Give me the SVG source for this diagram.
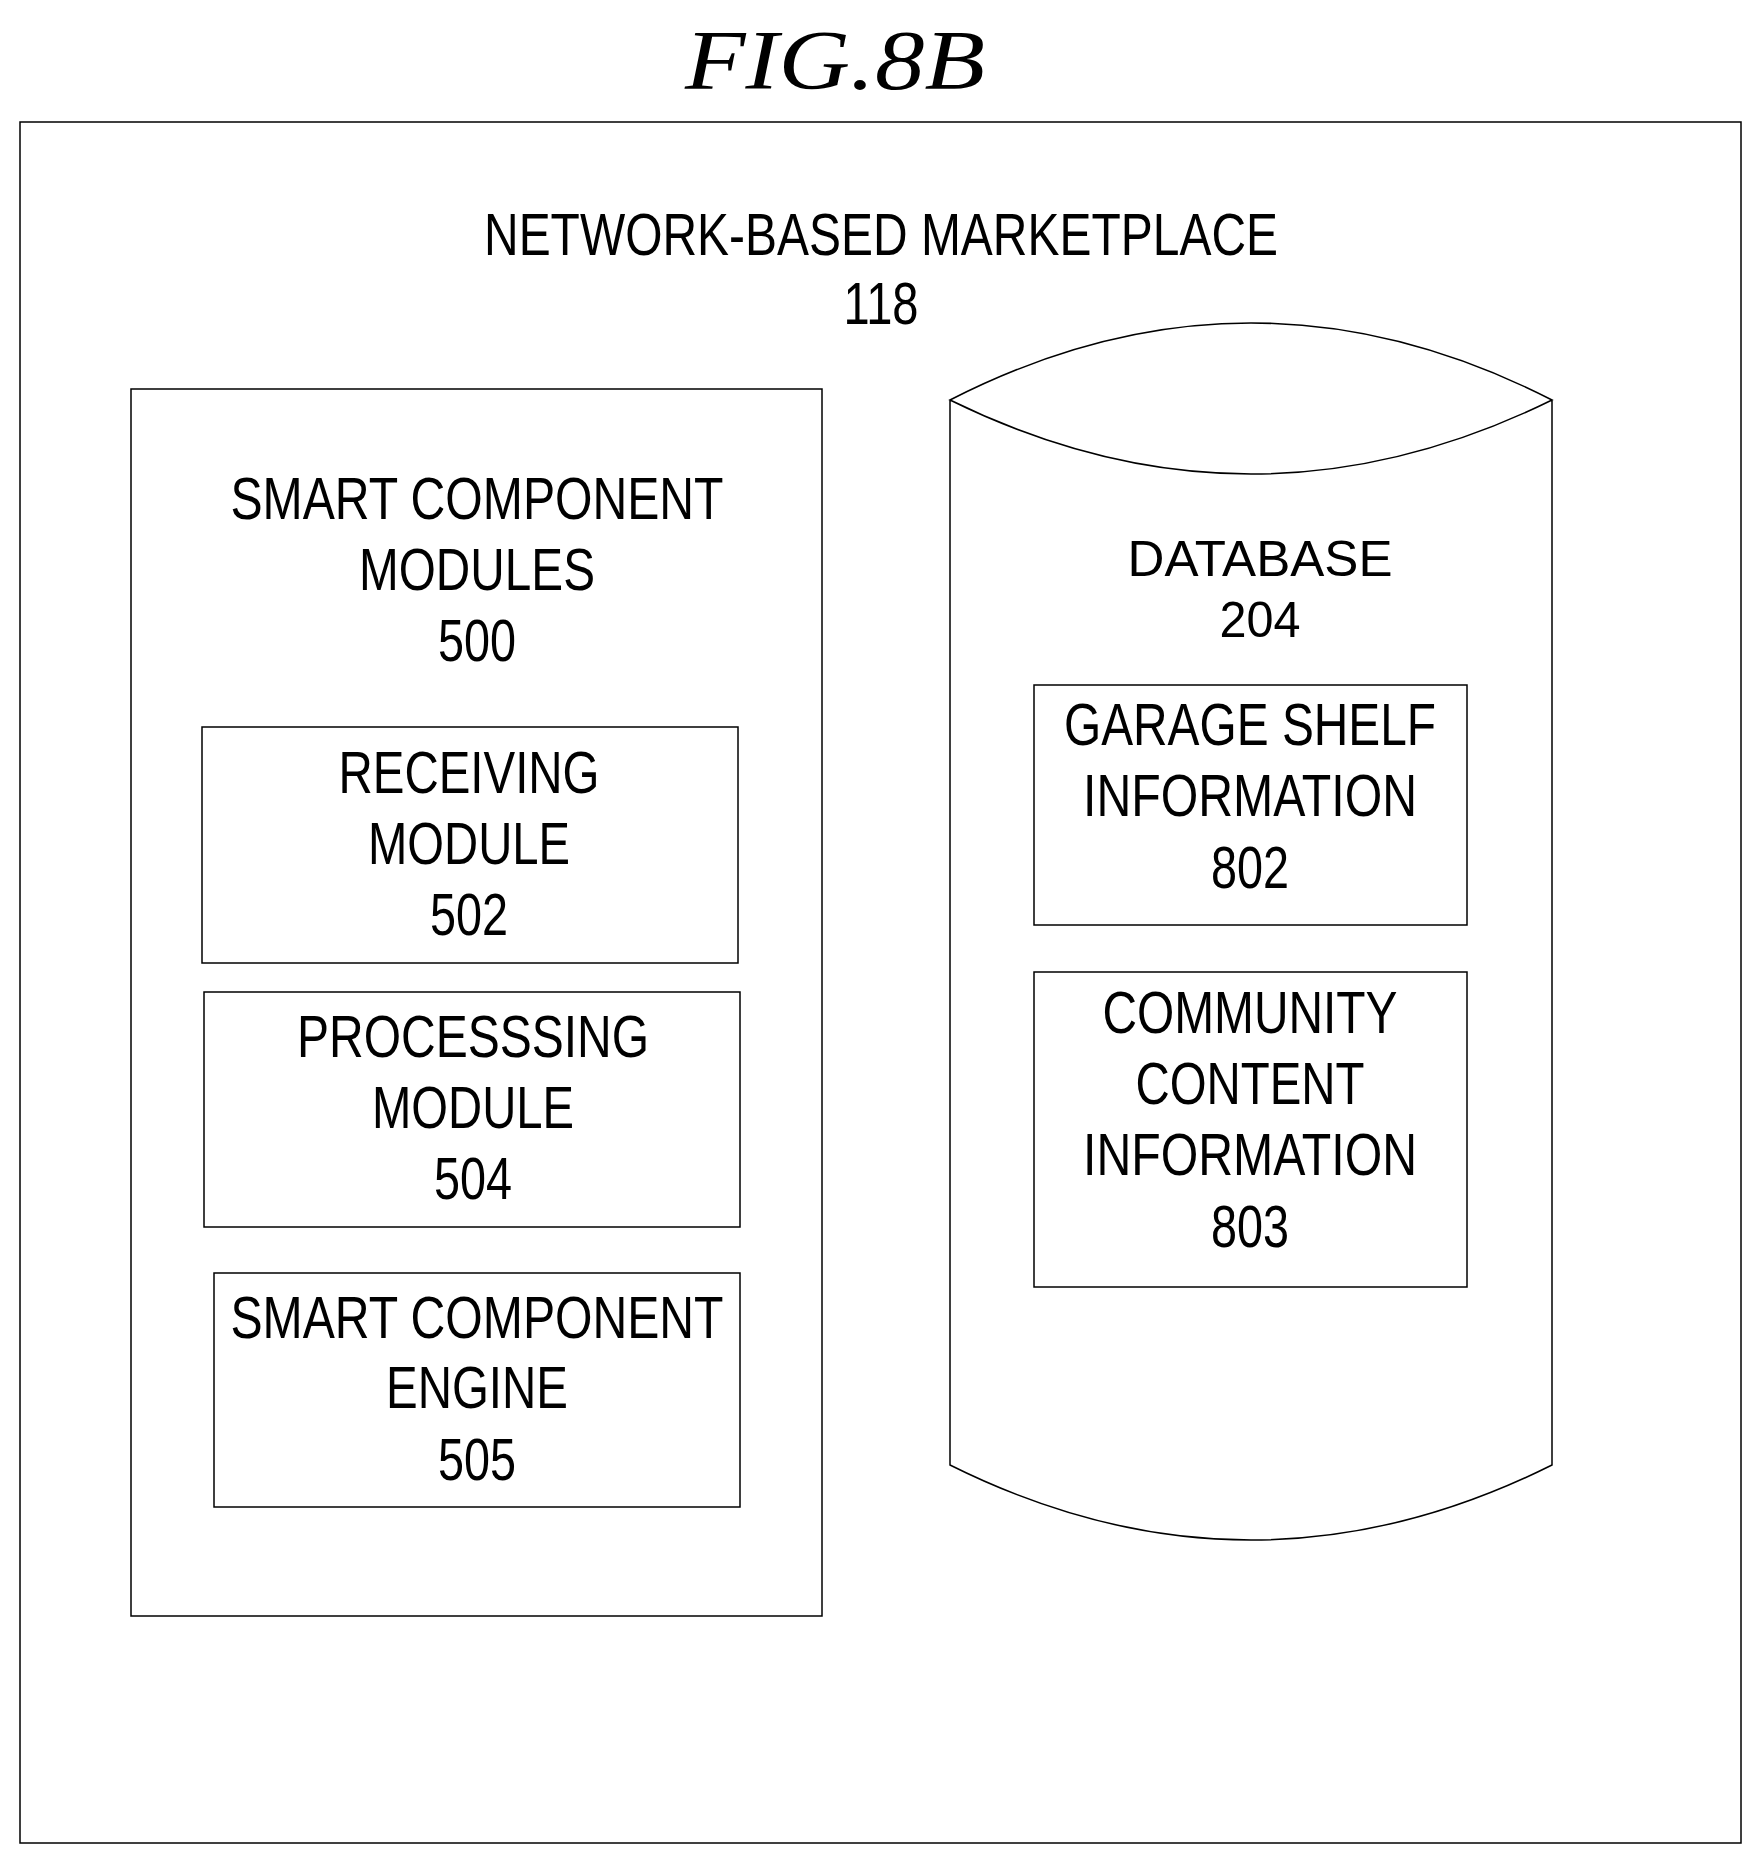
<svg xmlns="http://www.w3.org/2000/svg" width="1753" height="1854" viewBox="0 0 1753 1854">
<style>
.b{fill:none;stroke:#000;stroke-width:1.5}
text{font-family:"Liberation Sans Narrow","Liberation Sans",Arial,sans-serif;font-size:60px;text-anchor:middle;fill:#000}
.s{font-size:50px}
.t{font-family:"Liberation Serif","Times New Roman",serif;font-style:italic;font-size:84px}
</style>
<rect width="1753" height="1854" fill="#fff"/>
<text class="t" x="835" y="89" textLength="300" lengthAdjust="spacingAndGlyphs">FIG.8B</text>
<g id="marketplace">
<rect class="b" x="20" y="122" width="1721" height="1721"/>
<text x="881" y="255" textLength="794" lengthAdjust="spacingAndGlyphs">NETWORK-BASED MARKETPLACE</text>
<text x="881" y="324" textLength="75" lengthAdjust="spacingAndGlyphs">118</text>
</g>
<g id="modules">
<rect class="b" x="131" y="389" width="691" height="1227"/>
<text x="477" y="519" textLength="493" lengthAdjust="spacingAndGlyphs">SMART COMPONENT</text>
<text x="477" y="590" textLength="236" lengthAdjust="spacingAndGlyphs">MODULES</text>
<text x="477" y="661" textLength="78" lengthAdjust="spacingAndGlyphs">500</text>
</g>
<g id="receiving">
<rect class="b" x="202" y="727" width="536" height="236"/>
<text x="469" y="793" textLength="261" lengthAdjust="spacingAndGlyphs">RECEIVING</text>
<text x="469" y="864" textLength="202" lengthAdjust="spacingAndGlyphs">MODULE</text>
<text x="469" y="935" textLength="78" lengthAdjust="spacingAndGlyphs">502</text>
</g>
<g id="processing">
<rect class="b" x="204" y="992" width="536" height="235"/>
<text x="473" y="1057" textLength="352" lengthAdjust="spacingAndGlyphs">PROCESSSING</text>
<text x="473" y="1128" textLength="202" lengthAdjust="spacingAndGlyphs">MODULE</text>
<text x="473" y="1199" textLength="78" lengthAdjust="spacingAndGlyphs">504</text>
</g>
<g id="engine">
<rect class="b" x="214" y="1273" width="526" height="234"/>
<text x="477" y="1338" textLength="493" lengthAdjust="spacingAndGlyphs">SMART COMPONENT</text>
<text x="477" y="1408" textLength="182" lengthAdjust="spacingAndGlyphs">ENGINE</text>
<text x="477" y="1480" textLength="78" lengthAdjust="spacingAndGlyphs">505</text>
</g>
<g id="database">
<path class="b" d="M950,400 Q1251,246 1552,400 Q1251,548 950,400 Z M950,400 L950,1465 Q1251,1615 1552,1465 L1552,400"/>
<text class="s" x="1260" y="576" textLength="265" lengthAdjust="spacingAndGlyphs">DATABASE</text>
<text class="s" x="1260" y="637" textLength="81" lengthAdjust="spacingAndGlyphs">204</text>
</g>
<g id="garage">
<rect class="b" x="1034" y="685" width="433" height="240"/>
<text x="1250" y="745" textLength="372" lengthAdjust="spacingAndGlyphs">GARAGE SHELF</text>
<text x="1250" y="816" textLength="334" lengthAdjust="spacingAndGlyphs">INFORMATION</text>
<text x="1250" y="888" textLength="78" lengthAdjust="spacingAndGlyphs">802</text>
</g>
<g id="community">
<rect class="b" x="1034" y="972" width="433" height="315"/>
<text x="1250" y="1033" textLength="295" lengthAdjust="spacingAndGlyphs">COMMUNITY</text>
<text x="1250" y="1104" textLength="229" lengthAdjust="spacingAndGlyphs">CONTENT</text>
<text x="1250" y="1175" textLength="334" lengthAdjust="spacingAndGlyphs">INFORMATION</text>
<text x="1250" y="1247" textLength="78" lengthAdjust="spacingAndGlyphs">803</text>
</g>
<g id="connectors"></g>
</svg>
